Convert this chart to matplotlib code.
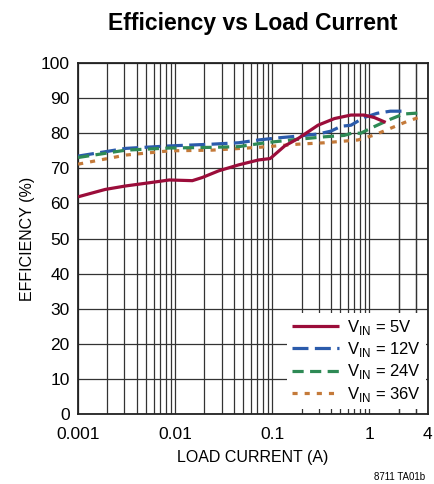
import numpy as np
import matplotlib
matplotlib.use('Agg')
import matplotlib.pyplot as plt
from matplotlib.ticker import FixedLocator, NullFormatter

plt.rcParams['font.family'] = ['Liberation Sans', 'DejaVu Sans']

# load current (A) and efficiency (%)
i_5v = [0.001, 0.0019, 0.0031, 0.0054, 0.0087, 0.015, 0.019, 0.028, 0.045, 0.072, 0.095,
        0.134, 0.184, 0.295, 0.436, 0.645, 0.88, 1.12, 1.47]
eff_5v = [61.9, 64.0, 65.0, 65.9, 66.7, 66.5, 67.4, 69.3, 71.0, 72.4, 72.8,
          76.4, 78.5, 82.3, 84.2, 85.2, 85.2, 84.5, 83.1]

i_12v = [0.001, 0.0031, 0.0087, 0.024, 0.045, 0.072, 0.115, 0.184, 0.295, 0.4, 0.51,
         0.645, 0.88, 1.2, 1.64, 2.4]
eff_12v = [73.5, 75.7, 76.4, 76.9, 77.3, 78.1, 78.7, 79.2, 79.8, 80.6, 82.0,
           82.3, 84.5, 85.7, 86.3, 86.3]

i_24v = [0.001, 0.0031, 0.0087, 0.024, 0.045, 0.084, 0.184, 0.345, 0.55, 0.67, 0.81,
         1.12, 1.64, 2.25, 3.3]
eff_24v = [73.1, 75.2, 75.8, 76.0, 76.2, 77.3, 78.3, 79.0, 79.4, 80.1, 80.0,
           81.9, 84.0, 85.5, 85.8]

i_36v = [0.001, 0.0031, 0.0087, 0.024, 0.072, 0.184, 0.345, 0.76, 1.12, 1.64, 2.4, 3.2]
eff_36v = [71.2, 73.8, 75.0, 75.2, 76.0, 76.9, 77.3, 78.1, 79.5, 81.4, 83.3, 84.5]

xticks = [0.001, 0.01, 0.1, 1, 4]
xticklabels = ['0.001', '0.01', '0.1', '1', '4']
yticks = list(range(0, 101, 10))

fig = plt.figure(figsize=(4.34, 4.84), dpi=100)
ax = fig.add_axes([0.18, 0.1446, 0.806, 0.725])

ax.plot(i_5v, eff_5v, color='#9b0d3a', lw=2.3, solid_capstyle='butt', label='V$_{\\mathregular{IN}}$ = 5V', zorder=5)
ax.plot(i_12v, eff_12v, color='#2b5bab', lw=2.3, dashes=(5, 2), label='V$_{\\mathregular{IN}}$ = 12V', zorder=4)
ax.plot(i_24v, eff_24v, color='#2e8a55', lw=2.3, dashes=(3.5, 2), label='V$_{\\mathregular{IN}}$ = 24V', zorder=4)
ax.plot(i_36v, eff_36v, color='#c47a3a', lw=2.3, dashes=(1.6, 2.2), label='V$_{\\mathregular{IN}}$ = 36V', zorder=3)

ax.set_xscale('log')
ax.set_xlim(0.001, 4)
ax.set_ylim(0, 100)

# vertical grid at every decade step, horizontal grid every 10 %
vgrid = [m * 10.0 ** e for e in range(-3, 1) for m in range(1, 10)]
vgrid = [v for v in vgrid if v <= 4] + [2, 3]
ax.xaxis.set_major_locator(FixedLocator(xticks))
ax.xaxis.set_minor_locator(FixedLocator(vgrid))
ax.xaxis.set_minor_formatter(NullFormatter())
ax.set_xticklabels(xticklabels)
ax.set_yticks(yticks)
ax.grid(True, which='both', axis='x', color='#333333', lw=0.9)
ax.grid(True, which='major', axis='y', color='#333333', lw=0.9)
ax.tick_params(which='both', length=0, labelsize=12.5)
ax.tick_params(axis='x', pad=9)
ax.tick_params(axis='y', pad=6)
for s in ax.spines.values():
    s.set_linewidth(1.3)
    s.set_color('#222222')

ax.set_xlabel('LOAD CURRENT (A)', fontsize=11.5, labelpad=6)
ax.set_ylabel('EFFICIENCY (%)', fontsize=11.5, labelpad=4)
ax.set_title('Efficiency vs Load Current', fontsize=16.5, fontweight='bold', pad=24)

leg = ax.legend(loc='lower right', bbox_to_anchor=(0.995, 0.015), frameon=True, fontsize=12,
                handlelength=2.8, handletextpad=0.5, labelspacing=0.2, borderpad=0.3,
                borderaxespad=0)
leg.get_frame().set_facecolor('white')
leg.get_frame().set_edgecolor('none')
leg.get_frame().set_alpha(1)
leg.set_zorder(10)

fig.text(0.98, 0.0145, '8711 TA01b', fontsize=7, ha='right', va='center')

fig.savefig('out.png', dpi=100)
